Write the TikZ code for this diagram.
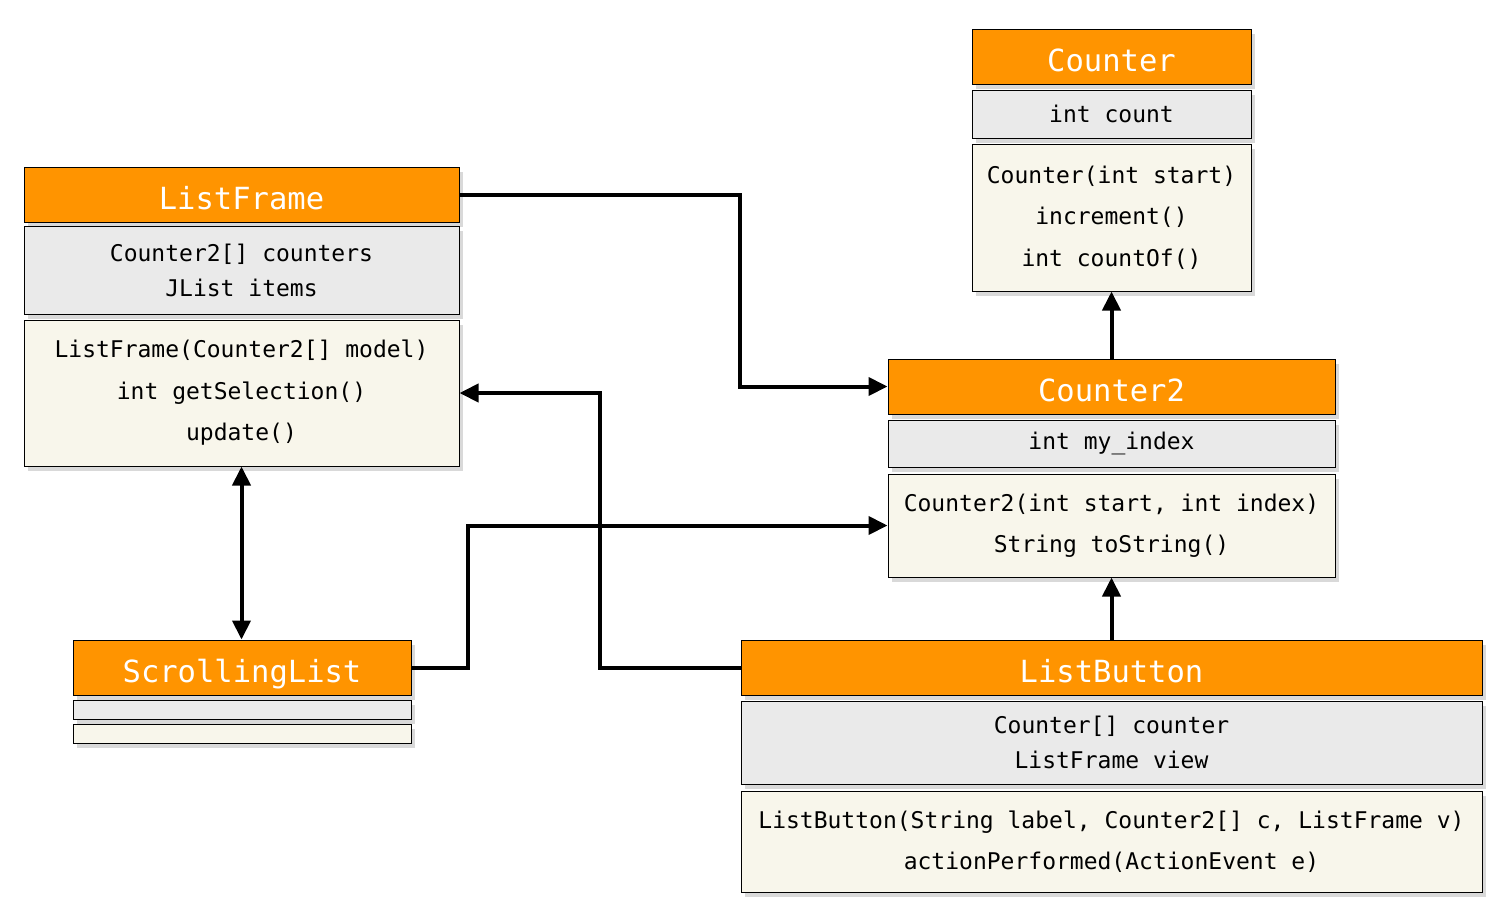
\documentclass[tikz,border=0pt]{standalone}
\usepackage{fontspec}
\setmonofont{DejaVu Sans Mono}
\usetikzlibrary{positioning,shadows,arrows.meta}
\definecolor{headorange}{RGB}{255,148,0}
\definecolor{fieldgray}{RGB}{234,234,234}
\definecolor{methodcream}{RGB}{248,246,235}

\begin{document}
\begin{tikzpicture}[x=1pt,y=-1pt,
        box/.style={draw,line width=1pt,inner sep=0pt,align=center,
            drop shadow={shadow xshift=4pt,shadow yshift=-5pt,opacity=0.3}},
        head/.style={box,fill=headorange,text=white,minimum height=55pt,
            text height=29pt,text depth=0pt,
            font=\fontsize{30.5}{30.5}\selectfont\ttfamily},
        fields/.style={box,fill=fieldgray,font=\fontsize{23}{35}\selectfont\ttfamily},
        methods/.style={box,fill=methodcream,font=\fontsize{23}{41.5}\selectfont\ttfamily},
        node distance=5pt,
        >={Triangle[length=19pt,width=18pt]},
        link/.style={line width=4pt,->}]

    \useasboundingbox (0,0) rectangle (1504,914);

    % Counter
    \node[head,minimum width=279pt] (cthead) at (1111.5,56.5) {Counter};
    \node[fields,minimum width=279pt,minimum height=48pt,below=of cthead] (ctfield) {int count};
    \node[methods,minimum width=279pt,minimum height=147pt,below=of ctfield] (ctmeth)
        {Counter(int start)\\increment()\\int countOf()};

    % ListFrame
    \node[head,minimum width=435pt] (lfhead) at (241.5,194.5) {ListFrame};
    \node[fields,minimum width=435pt,minimum height=88pt,below=3pt of lfhead] (lffield)
        {Counter2[] counters\\JList items};
    \node[methods,minimum width=435pt,minimum height=146pt,below=of lffield] (lfmeth)
        {ListFrame(Counter2[] model)\\int getSelection()\\update()};

    % Counter2
    \node[head,minimum width=447pt] (c2head) at (1111.5,386.5) {Counter2};
    \node[fields,minimum width=447pt,minimum height=47pt,below=of c2head] (c2field) {int my\_index};
    \node[methods,minimum width=447pt,minimum height=103pt,below=6pt of c2field] (c2meth)
        {Counter2(int start, int index)\\String toString()};

    % ScrollingList
    \node[head,minimum width=338pt] (slhead) at (242,667.5) {ScrollingList};
    \node[fields,minimum width=338pt,minimum height=19pt,below=4pt of slhead] (slfield) {};
    \node[methods,minimum width=338pt,minimum height=19pt,below=4pt of slfield] (slmeth) {};

    % ListButton
    \node[head,minimum width=741pt] (lbhead) at (1111.5,667.5) {ListButton};
    \node[fields,minimum width=741pt,minimum height=83pt,below=of lbhead] (lbfield)
        {Counter[] counter\\ListFrame view};
    \node[methods,minimum width=741pt,minimum height=101pt,below=6pt of lbfield] (lbmeth)
        {ListButton(String label, Counter2[] c, ListFrame v)\\actionPerformed(ActionEvent e)};

    % connectors
    \draw[link] (lfhead.east) -- ++(280,0) |- (c2head.west);
    \draw[link] (lbhead.west) -- ++(-141,0) |- (lfmeth.east);
    \draw[link] (slhead.east) -- ++(56,0) |- (c2meth.west);
    \draw[link,<->] (lfmeth.south) -- (lfmeth.south |- slhead.north);
    \draw[link] (c2head.north) -- (ctmeth.south);
    \draw[link] (lbhead.north) -- (c2meth.south);
\end{tikzpicture}
\end{document}
